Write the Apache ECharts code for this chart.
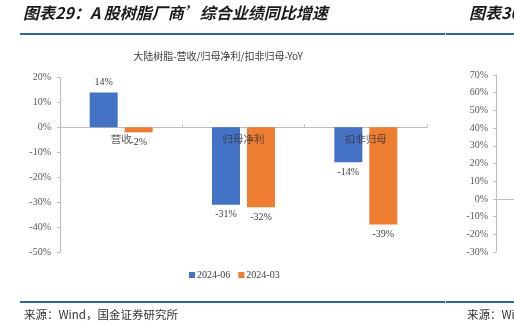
<!DOCTYPE html>
<html>
<head>
<meta charset="utf-8">
<script src="https://cdn.jsdelivr.net/npm/echarts@6/dist/echarts.min.js"></script>
<style>
html,body{margin:0;padding:0;background:#fff;}
#c{width:514px;height:324px;}
</style>
</head>
<body>
<div id="c"></div>
<script>
const categories = ['营收', '归母净利', '扣非归母'];
const series2406 = [14, -31, -14];
const series2403 = [-2, -32, -39];
const seriesNames = ['2024-06', '2024-03'];
const leftTicks = { min: -50, max: 20, interval: 10 };
const rightTicks = { min: -30, max: 70, interval: 10 };

const numFont = '"Liberation Serif", "Noto Sans CJK SC", serif';
const cjkFont = '"Noto Sans CJK SC", sans-serif';

function withLabel(values) {
  return values.map(v => ({
    value: v,
    label: { position: v >= 0 ? 'top' : 'bottom' }
  }));
}

const chart = echarts.init(document.getElementById('c'), null, { renderer: 'canvas' });

const option = {
  animation: false,
  backgroundColor: '#ffffff',
  title: {
    text: '大陆树脂-营收/归母净利/扣非归母-YoY',
    left: 213, top: 46,
    textAlign: 'center',
    textStyle: { fontSize: 10, fontWeight: 'normal', color: '#404040', fontFamily: cjkFont }
  },
  legend: {
    data: seriesNames,
    left: 184, top: 265,
    itemWidth: 6, itemHeight: 6, itemGap: 8,
    icon: 'rect',
    textStyle: { fontSize: 10, color: '#404040', fontFamily: numFont, padding: [0, 0, 0, -3] }
  },
  grid: [
    { left: 60, right: 87, top: 77.5, bottom: 72, containLabel: false },
    { left: 496, width: 200, top: 75, bottom: 72, containLabel: false }
  ],
  xAxis: [
    {
      type: 'category', gridIndex: 0, data: categories,
      axisLine: { onZero: true, lineStyle: { color: '#BFBFBF', width: 1 } },
      axisTick: { show: true, inside: true, length: 3, alignWithLabel: false, lineStyle: { color: '#BFBFBF' } },
      axisLabel: { show: false },
      splitLine: { show: false }
    },
    {
      type: 'category', gridIndex: 1, data: [''],
      axisLine: { onZero: true, lineStyle: { color: '#BFBFBF', width: 1 } },
      axisTick: { show: false },
      axisLabel: { show: false },
      splitLine: { show: false }
    }
  ],
  yAxis: [
    {
      type: 'value', gridIndex: 0,
      min: leftTicks.min, max: leftTicks.max, interval: leftTicks.interval,
      axisLine: { show: true, lineStyle: { color: '#BFBFBF' } },
      axisTick: { show: true, length: 3, lineStyle: { color: '#BFBFBF' } },
      splitLine: { show: false },
      axisLabel: { formatter: '{value}%', margin: 9, fontSize: 10, color: '#595959', fontFamily: numFont }
    },
    {
      type: 'value', gridIndex: 1,
      min: rightTicks.min, max: rightTicks.max, interval: rightTicks.interval,
      axisLine: { show: true, lineStyle: { color: '#BFBFBF' } },
      axisTick: { show: true, length: 3, lineStyle: { color: '#BFBFBF' } },
      splitLine: { show: false },
      axisLabel: { formatter: '{value}%', margin: 8, fontSize: 10, color: '#595959', fontFamily: numFont }
    }
  ],
  series: [
    {
      name: seriesNames[0], type: 'bar', xAxisIndex: 0, yAxisIndex: 0,
      data: withLabel(series2406),
      barWidth: 28, barGap: '25%',
      itemStyle: { color: '#4472C4' },
      label: { show: true, formatter: '{c}%', distance: 5, fontSize: 10, color: '#404040', fontFamily: numFont }
    },
    {
      name: seriesNames[1], type: 'bar', xAxisIndex: 0, yAxisIndex: 0,
      data: withLabel(series2403),
      barWidth: 28, barGap: '25%',
      itemStyle: { color: '#ED7D31' },
      label: { show: true, formatter: '{c}%', distance: 5, fontSize: 10, color: '#404040', fontFamily: numFont }
    },
    {
      name: 'categoryLabels', type: 'scatter', xAxisIndex: 0, yAxisIndex: 0,
      data: categories.map(c => [c, 0]),
      symbolSize: 0, silent: true, z: 5,
      label: {
        show: true, position: 'bottom', distance: 6,
        formatter: p => p.name || p.value[0],
        fontSize: 10.5, color: '#333333', fontFamily: cjkFont
      }
    }
  ],
  graphic: [
    { type: 'text', left: 23, top: 5, style: { text: '图表29：A 股树脂厂商’综合业绩同比增速', font: 'italic bold 16px "Noto Sans CJK SC", sans-serif', fill: '#1a1a1a' } },
    { type: 'text', left: 469, top: 5, style: { text: '图表30：', font: 'italic bold 16px "Noto Sans CJK SC", sans-serif', fill: '#1a1a1a' } },
    { type: 'line', shape: { x1: 20, y1: 34, x2: 445, y2: 34 }, style: { stroke: '#2E6A8E', lineWidth: 2 } },
    { type: 'line', shape: { x1: 446, y1: 34, x2: 514, y2: 34 }, style: { stroke: '#2E6A8E', lineWidth: 2 } },
    { type: 'line', shape: { x1: 20, y1: 302, x2: 445, y2: 302 }, style: { stroke: '#2E6A8E', lineWidth: 2 } },
    { type: 'line', shape: { x1: 446, y1: 302, x2: 514, y2: 302 }, style: { stroke: '#2E6A8E', lineWidth: 2 } },
    { type: 'text', left: 24, top: 309, style: { text: '来源：Wind，国金证券研究所', font: '11.5px "Noto Sans CJK SC", sans-serif', fill: '#333333' } },
    { type: 'text', left: 467, top: 309, style: { text: '来源：Wind', font: '11.5px "Noto Sans CJK SC", sans-serif', fill: '#333333' } }
  ]
};

chart.setOption(option);
</script>
</body>
</html>
